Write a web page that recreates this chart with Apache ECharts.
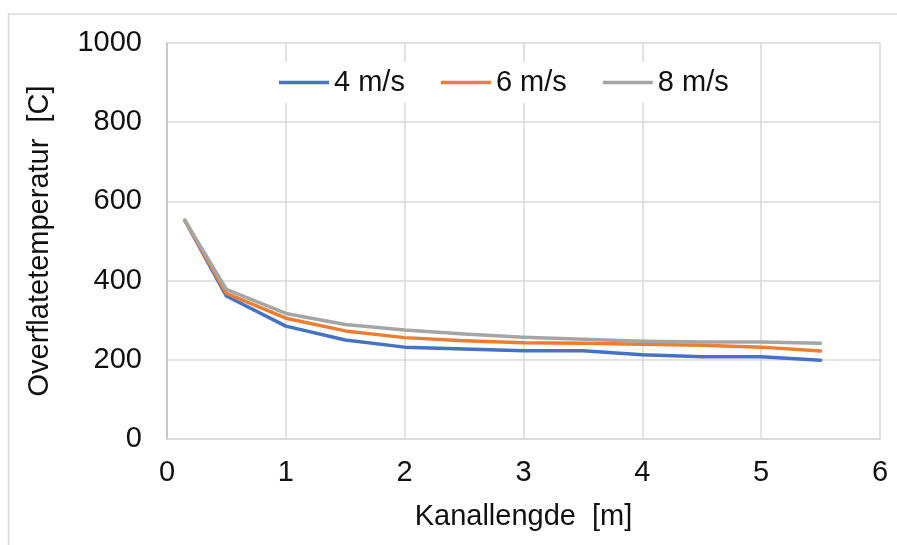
<!DOCTYPE html>
<html>
<head>
<meta charset="utf-8">
<script src="https://cdn.jsdelivr.net/npm/echarts@6/dist/echarts.min.js"></script>
<style>
  html, body { margin: 0; padding: 0; background: #fff; }
  #chart { width: 897px; height: 545px; }
</style>
</head>
<body>
<div id="chart"></div>
<script>
// Channel length positions [m]
const kanallengde = [0.15, 0.5, 1, 1.5, 2, 2.5, 3, 3.5, 4, 4.5, 5, 5.5];
// Surface temperature [C] per gas velocity
const temp4 = [552, 361, 285, 250, 232, 227, 223, 223, 213, 208, 208, 199];
const temp6 = [552, 368, 305, 273, 256, 248, 243, 242, 239, 237, 232, 222];
const temp8 = [552, 378, 317, 289, 275, 265, 257, 252, 247, 245, 245, 242];
const seriesNames = ['4 m/s', '6 m/s', '8 m/s'];
const seriesColors = ['#4472C4', '#ED7D31', '#A5A5A5'];

const font = 'Liberation Sans, Arial, sans-serif';
const pair = (xs, ys) => xs.map((x, i) => [x, ys[i]]);

const chart = echarts.init(document.getElementById('chart'), null, { renderer: 'canvas' });

chart.setOption({
  animation: false,
  backgroundColor: '#fff',
  textStyle: { fontFamily: font },
  graphic: [{
    type: 'rect',
    shape: { x: 8.5, y: 14, width: 1000, height: 1000 },
    style: { fill: 'none', stroke: '#d9d9d9', lineWidth: 1.5 },
    z: -1
  }],
  grid: { left: 167, right: 17, top: 43, bottom: 106 },
  legend: {
    left: 271, top: 62,
    padding: [6, 8],
    backgroundColor: '#fff',
    icon: 'rect',
    itemWidth: 50, itemHeight: 3.5, itemGap: 36,
    textStyle: { fontSize: 29, color: '#111', fontFamily: font },
    data: seriesNames
  },
  xAxis: {
    type: 'value', min: 0, max: 6, interval: 1,
    name: 'Kanallengde  [m]', nameLocation: 'middle', nameGap: 63,
    nameTextStyle: { fontSize: 29, color: '#111', fontFamily: font },
    axisLine: { show: true, lineStyle: { color: '#d9d9d9', width: 1.5 } },
    axisTick: { show: false },
    axisLabel: { fontSize: 29, color: '#111', margin: 19, fontFamily: font },
    splitLine: { show: true, lineStyle: { color: '#d9d9d9', width: 1.5 } }
  },
  yAxis: {
    type: 'value', min: 0, max: 1000, interval: 200,
    name: 'Overflatetemperatur  [C]', nameLocation: 'middle', nameGap: 113,
    nameTextStyle: { fontSize: 29, color: '#111', fontFamily: font },
    axisLine: { show: true, lineStyle: { color: '#bfbfbf', width: 1.5 } },
    axisTick: { show: false },
    axisLabel: {
      fontSize: 29, color: '#111', margin: 25, fontFamily: font,
      formatter: v => String(v)
    },
    splitLine: { show: true, lineStyle: { color: '#d9d9d9', width: 1.5 } }
  },
  series: [temp4, temp6, temp8].map((vals, i) => ({
    name: seriesNames[i],
    type: 'line',
    data: pair(kanallengde, vals),
    showSymbol: false,
    symbol: 'none',
    lineStyle: { color: seriesColors[i], width: 3.5, cap: 'round', join: 'round' },
    itemStyle: { color: seriesColors[i] }
  }))
});
</script>
</body>
</html>
